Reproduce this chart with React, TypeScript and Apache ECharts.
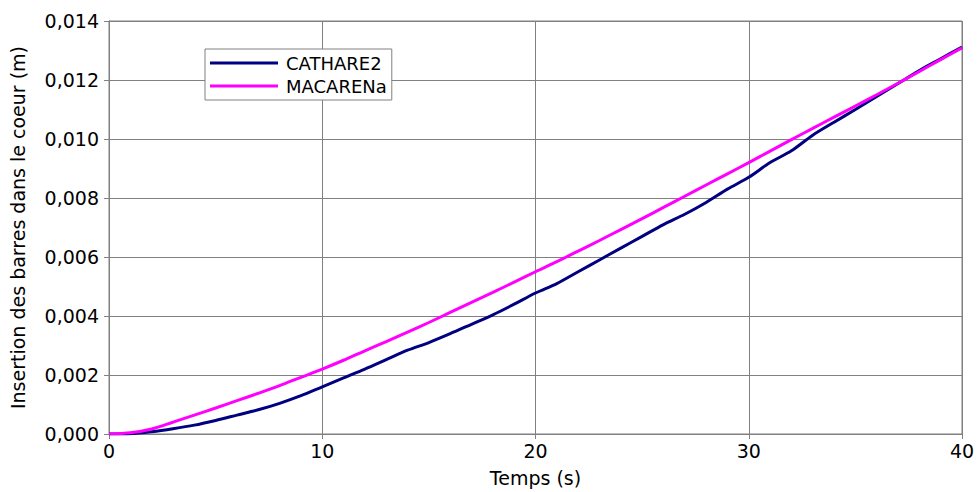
import React, { useEffect, useRef } from "react";
import * as echarts from "echarts";

const time = [0, 1, 2, 3, 4, 5, 6, 7, 8, 9, 10, 11, 12, 13, 14, 15, 16, 17, 18, 19, 20, 21, 22, 23, 24, 25, 26, 27, 28, 29, 30, 31, 32, 33, 34, 35, 36, 37, 38, 39, 40];
const cathare2 = [0, 0.00001, 0.00008, 0.00018, 0.0003, 0.00046, 0.00064, 0.00082, 0.00104, 0.0013, 0.0016, 0.0019, 0.0022, 0.00252, 0.00284, 0.0031, 0.0034, 0.00372, 0.00404, 0.0044, 0.00478, 0.0051, 0.0055, 0.0059, 0.0063, 0.0067, 0.0071, 0.00745, 0.00785, 0.0083, 0.0087, 0.0092, 0.0096, 0.01013, 0.01057, 0.011, 0.01144, 0.01188, 0.01232, 0.01272, 0.01312];
const macarena = [0, 0.00004, 0.00017, 0.0004, 0.00064, 0.00088, 0.00113, 0.00138, 0.00164, 0.00192, 0.0022, 0.0025, 0.00282, 0.00313, 0.00345, 0.00378, 0.00412, 0.00446, 0.0048, 0.00515, 0.0055, 0.00584, 0.0062, 0.00656, 0.00693, 0.0073, 0.00768, 0.00806, 0.00844, 0.00882, 0.0092, 0.00959, 0.00998, 0.01036, 0.01074, 0.01112, 0.0115, 0.01189, 0.01229, 0.01269, 0.01309];

const FONT = "DejaVu Sans";

export default function App() {
  const ref = useRef<HTMLDivElement>(null);
  useEffect(() => {
    if (!ref.current) return;
    const chart = echarts.init(ref.current, null, { renderer: "svg" });
    chart.setOption({
      animation: false,
      textStyle: { fontFamily: FONT },
      grid: {
        left: 108,
        right: 16,
        top: 21,
        bottom: 56,
        show: true,
        borderColor: "#808080",
        borderWidth: 1,
        backgroundColor: "#ffffff",
      },
      legend: {
        orient: "vertical",
        left: 205,
        top: 49,
        padding: [5, 5, 5, 5],
        itemWidth: 68,
        itemHeight: 3,
        itemGap: 5,
        icon: "rect",
        borderColor: "#808080",
        borderWidth: 1,
        backgroundColor: "#ffffff",
        textStyle: { fontFamily: FONT, fontSize: 18, color: "#000", padding: [0, 0, 0, 3] },
        data: ["CATHARE2", "MACARENa"],
      },
      xAxis: {
        type: "value",
        min: 0,
        max: 40,
        interval: 10,
        name: "Temps (s)",
        nameLocation: "middle",
        nameGap: 34,
        nameTextStyle: { fontFamily: FONT, fontSize: 19, color: "#000" },
        axisLine: { lineStyle: { color: "#808080" } },
        axisTick: { show: true, length: 5, lineStyle: { color: "#808080" } },
        axisLabel: { fontFamily: FONT, fontSize: 19, color: "#000", margin: 7 },
        splitLine: { show: true, lineStyle: { color: "#808080", width: 1 } },
      },
      yAxis: {
        type: "value",
        min: 0,
        max: 0.014,
        interval: 0.002,
        name: "Insertion des barres dans le coeur (m)",
        nameLocation: "middle",
        nameGap: 82,
        nameTextStyle: { fontFamily: FONT, fontSize: 19, color: "#000" },
        axisLine: { show: true, lineStyle: { color: "#808080" } },
        axisTick: { show: true, length: 5, lineStyle: { color: "#808080" } },
        axisLabel: {
          fontFamily: FONT,
          fontSize: 19,
          color: "#000",
          margin: 10,
          formatter: (v: number) => v.toFixed(3).replace(".", ","),
        },
        splitLine: { show: true, lineStyle: { color: "#808080", width: 1 } },
      },
      series: [
        {
          name: "CATHARE2",
          type: "line",
          data: time.map((t, i) => [t, cathare2[i]]),
          showSymbol: false,
          symbol: "none",
          smooth: 0.3,
          lineStyle: { color: "#000080", width: 3 },
          itemStyle: { color: "#000080" },
          z: 3,
        },
        {
          name: "MACARENa",
          type: "line",
          data: time.map((t, i) => [t, macarena[i]]),
          showSymbol: false,
          symbol: "none",
          smooth: 0.3,
          lineStyle: { color: "#ff00ff", width: 3 },
          itemStyle: { color: "#ff00ff" },
          z: 4,
        },
      ],
    });
    return () => chart.dispose();
  }, []);
  return <div ref={ref} style={{ width: 978, height: 492, position: "absolute", left: 0, top: 0 }} />;
}
